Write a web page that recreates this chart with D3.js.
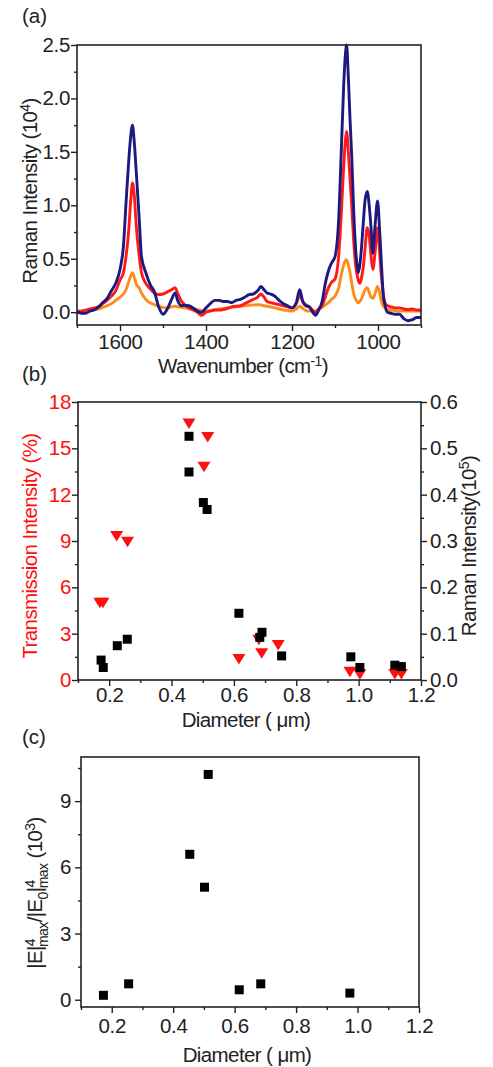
<!DOCTYPE html>
<html>
<head>
<meta charset="utf-8">
<script src="https://cdn.jsdelivr.net/npm/d3@7"></script>
<style>
  body { margin: 0; background: #fff; }
  svg text { font-family: "Liberation Sans", Arial, sans-serif; }
</style>
</head>
<body>
<div id="chart"></div>
<script>
// ---------- data ----------

// (a) Raman spectra, shared wavenumber grid (cm-1), intensity in 10^4
const wavenumbers = [
  1700,1690,1680,1670,1660,1650,1640,1630,1620,1610,
  1600,1592,1586,1580,1575,1571,1567,1562,1556,1550,
  1540,1530,1520,1510,1500,1490,1480,1472,1465,1458,
  1450,1440,1430,1420,1410,1400,1390,1380,1370,1360,
  1350,1340,1330,1320,1310,1300,1290,1280,1272,1265,
  1258,1250,1240,1230,1220,1210,1200,1190,1182,1175,
  1168,1160,1152,1145,1138,1130,1122,1115,1108,1100,
  1092,1085,1080,1076,1073,1069,1065,1061,1057,1053,
  1049,1046,1042,1038,1034,1030,1025,1020,1016,1012,
  1007,1001,996,992,988,984,978,970,960,950,
  940,930,920,910,900
];
const navyIntensity = [
  0.0,-0.01,-0.01,0.01,0.02,0.05,0.09,0.13,0.2,0.27,
  0.4,0.62,1.02,1.4,1.65,1.75,1.6,1.3,0.92,0.52,
  0.37,0.26,0.19,0.05,-0.02,0.03,0.12,0.18,0.1,0.06,
  0.065,0.06,0.04,0.01,0.0,0.04,0.08,0.11,0.11,0.1,
  0.1,0.09,0.11,0.12,0.14,0.165,0.17,0.2,0.24,0.21,
  0.18,0.17,0.15,0.11,0.08,0.06,0.04,0.09,0.21,0.1,
  0.06,0.05,0.0,-0.03,0.02,0.1,0.28,0.39,0.46,0.52,
  0.83,1.55,2.1,2.4,2.5,2.2,1.8,1.45,1.0,0.65,
  0.45,0.37,0.45,0.62,0.85,1.05,1.13,0.98,0.78,0.55,
  0.8,1.04,0.75,0.45,0.17,0.07,0.0,-0.01,-0.02,-0.02,
  -0.06,-0.08,-0.07,-0.05,-0.05
];
const redIntensity = [
  0.01,0.01,0.02,0.03,0.04,0.05,0.08,0.11,0.15,0.2,
  0.3,0.37,0.52,0.75,1.05,1.21,1.1,0.8,0.55,0.37,
  0.27,0.22,0.18,0.165,0.17,0.19,0.21,0.23,0.17,0.11,
  0.07,0.04,0.02,0.0,-0.03,0.0,0.01,0.02,0.02,0.025,
  0.035,0.05,0.056,0.06,0.08,0.1,0.12,0.14,0.17,0.14,
  0.1,0.09,0.08,0.07,0.06,0.05,0.04,0.08,0.16,0.1,
  0.07,0.05,0.02,0.0,0.03,0.06,0.15,0.23,0.28,0.31,
  0.5,0.95,1.35,1.6,1.69,1.5,1.25,0.99,0.7,0.48,
  0.36,0.3,0.27,0.33,0.43,0.6,0.79,0.7,0.52,0.4,
  0.55,0.79,0.55,0.33,0.18,0.09,0.06,0.05,0.04,0.04,
  0.03,0.025,0.03,0.02,0.02
];
const orangeIntensity = [
  0.01,0.01,0.015,0.02,0.025,0.03,0.045,0.06,0.08,0.11,
  0.14,0.17,0.21,0.28,0.34,0.37,0.33,0.26,0.23,0.18,
  0.12,0.087,0.07,0.055,0.045,0.04,0.05,0.056,0.05,0.045,
  0.04,0.035,0.03,0.025,0.015,0.01,0.015,0.02,0.03,0.035,
  0.04,0.045,0.05,0.055,0.06,0.065,0.068,0.07,0.068,0.06,
  0.055,0.05,0.04,0.03,0.02,0.015,0.01,0.03,0.056,0.035,
  0.015,0.01,0.01,0.01,0.025,0.045,0.07,0.09,0.12,0.15,
  0.22,0.36,0.44,0.48,0.49,0.44,0.37,0.27,0.18,0.13,
  0.1,0.087,0.1,0.13,0.17,0.21,0.23,0.18,0.14,0.13,
  0.17,0.24,0.18,0.1,0.06,0.04,0.025,0.02,0.015,0.01,
  0.01,0.01,0.01,0.01,0.01
];

// (b) transmission (%) and Raman intensity (10^5) vs diameter (um)
const transDiameter = [0.17,0.18,0.224,0.259,0.456,0.504,0.516,0.616,0.68,0.689,0.742,0.972,1.004,1.116,1.137];
const transIntensity = [5.0,5.0,9.33,8.95,16.6,13.8,15.74,1.36,2.6,1.73,2.26,0.54,0.37,0.39,0.39];
const ramanDiameter = [0.174,0.181,0.226,0.258,0.456,0.456,0.502,0.514,0.616,0.683,0.69,0.753,0.975,1.004,1.116,1.137];
const ramanIntensity = [0.043,0.027,0.074,0.088,0.526,0.449,0.383,0.368,0.144,0.092,0.103,0.052,0.050,0.027,0.032,0.029];

// (c) field enhancement (10^3) vs diameter (um)
const fieldDiameter = [0.173,0.255,0.454,0.502,0.514,0.615,0.685,0.975];
const fieldEnhancement = [0.2,0.72,6.59,5.1,10.21,0.45,0.72,0.3];

// ticks
const waveMajor = [1600,1400,1200,1000];
const waveMinor = [1700,1500,1300,1100,900];
const ramanAMajor = [0,0.5,1,1.5,2,2.5];
const ramanAMinor = [0.25,0.75,1.25,1.75,2.25];
const diamMajor = [0.2,0.4,0.6,0.8,1.0,1.2];
const diamMinor = [0.1,0.3,0.5,0.7,0.9,1.1];
const transMajor = [0,3,6,9,12,15,18];
const transMinor = [1.5,4.5,7.5,10.5,13.5,16.5];
const ramanBMajor = [0,0.1,0.2,0.3,0.4,0.5,0.6];
const ramanBMinor = [0.05,0.15,0.25,0.35,0.45,0.55];
const fieldMajor = [0,3,6,9];
const fieldMinor = [1.5,4.5,7.5,10.5];

// ---------- drawing ----------
const WIDTH = 493, HEIGHT = 1067;
const FONT = 20.5;
const SMALL = 14;
const AXIS = "#222";
const RED = "#ff1010";

const svg = d3.select("#chart").append("svg")
    .attr("width", WIDTH)
    .attr("height", HEIGHT);

// major + minor ticks for one axis
function drawAxis(axisGen, scale, major, minor, fmt, transform, pad, color) {
    svg.append("g")
        .attr("transform", transform)
        .call(axisGen(scale).tickValues(minor).tickSize(3).tickFormat(""))
        .call(a => {
            a.select(".domain").remove();
            a.selectAll("line").attr("stroke", AXIS).attr("stroke-width", 1.4);
        });
    svg.append("g")
        .attr("transform", transform)
        .call(axisGen(scale).tickValues(major).tickSize(6).tickPadding(pad).tickFormat(fmt))
        .call(a => {
            a.attr("font-size", null).attr("font-family", null);
            a.select(".domain").remove();
            a.selectAll("line").attr("stroke", AXIS).attr("stroke-width", 1.4);
            a.selectAll("text")
                .attr("fill", color || AXIS)
                .style("font-size", FONT + "px")
                .style("letter-spacing", "-0.3px");
        });
}

function frame(p) {
    svg.append("rect")
        .attr("x", p.left).attr("y", p.top)
        .attr("width", p.right - p.left).attr("height", p.bottom - p.top)
        .attr("fill", "none").attr("stroke", AXIS).attr("stroke-width", 1.6);
}

function label(x, y, txt) {
    svg.append("text").attr("x", x).attr("y", y)
        .style("font-size", FONT + "px").attr("fill", AXIS).text(txt);
}

// title with optional rotation; parts = [text, shift, dx] where shift = "sup" | "sub" | undefined
function title(x, y, rotate, parts, color) {
    const t = svg.append("text")
        .attr("transform", `translate(${x},${y})` + (rotate ? " rotate(-90)" : ""))
        .attr("text-anchor", "middle")
        .attr("fill", color || AXIS)
        .style("font-size", FONT + "px")
        .style("letter-spacing", "-0.6px");
    let level = 0;
    parts.forEach(([s, kind, dx]) => {
        const target = kind === "sup" ? -7 : kind === "sub" ? 6 : 0;
        const ts = t.append("tspan").attr("dy", target - level).text(s);
        if (kind) ts.style("font-size", SMALL + "px");
        if (dx) ts.attr("dx", dx);
        level = target;
    });
}

// ----- panel (a)
const pa = { left: 77, top: 45, right: 421, bottom: 325 };
const xa = d3.scaleLinear().domain([1700, 900]).range([pa.left, pa.right]);
const ya = d3.scaleLinear().domain([-0.12, 2.5]).range([pa.bottom, pa.top]);

const spectra = [
    { values: orangeIntensity, color: "#ff8c1a" },
    { values: redIntensity, color: "#ff1a1a" },
    { values: navyIntensity, color: "#1c1a80" }
];
const line = d3.line()
    .x(d => xa(d[0]))
    .y(d => ya(d[1]))
    .curve(d3.curveMonotoneX);

spectra.forEach(s => {
    svg.append("path")
        .datum(d3.zip(wavenumbers, s.values))
        .attr("d", line)
        .attr("fill", "none")
        .attr("stroke", s.color)
        .attr("stroke-width", 2.9)
        .attr("stroke-linejoin", "round");
});

frame(pa);
drawAxis(d3.axisBottom, xa, waveMajor, waveMinor, d3.format("d"), `translate(0,${pa.bottom})`, 3);
drawAxis(d3.axisLeft, ya, ramanAMajor, ramanAMinor, d3.format(".1f"), `translate(${pa.left},0)`, 1);
label(22, 23, "(a)");
title(243, 373, false, [["Wavenumber (cm"], ["-1", "sup"], [")"]]);
title(37, 191, true, [["Raman Intensity (10"], ["4", "sup"], [")"]]);

// ----- panel (b)
const pb = { left: 78, top: 402, right: 421, bottom: 680 };
const xb = d3.scaleLinear().domain([0.1, 1.2]).range([pb.left, pb.right]);
const ybL = d3.scaleLinear().domain([0, 18]).range([pb.bottom, pb.top]);
const ybR = d3.scaleLinear().domain([0, 0.6]).range([pb.bottom, pb.top]);

svg.append("g").selectAll("path")
    .data(d3.zip(transDiameter, transIntensity))
    .join("path")
    .attr("transform", d => `translate(${xb(d[0])},${ybL(d[1])})`)
    .attr("d", "M-6.5,-5L6.5,-5L0,5.5Z")
    .attr("fill", RED);

svg.append("g").selectAll("rect")
    .data(d3.zip(ramanDiameter, ramanIntensity))
    .join("rect")
    .attr("x", d => xb(d[0]) - 4.5)
    .attr("y", d => ybR(d[1]) - 4.5)
    .attr("width", 9).attr("height", 9)
    .attr("fill", "#000");

frame(pb);
drawAxis(d3.axisBottom, xb, diamMajor, diamMinor, d3.format(".1f"), `translate(0,${pb.bottom})`, 1);
drawAxis(d3.axisLeft, ybL, transMajor, transMinor, d3.format("d"), `translate(${pb.left},0)`, 1, RED);
drawAxis(d3.axisRight, ybR, ramanBMajor, ramanBMinor, d3.format(".1f"), `translate(${pb.right},0)`, 3);
label(22, 381, "(b)");
title(246, 727, false, [["Diameter ( μm)"]]);
title(37, 546, true, [["Transmission Intensity (%)"]], RED);
title(476, 546, true, [["Raman Intensity(10"], ["5", "sup"], [")"]]);

// ----- panel (c)
const pc = { left: 81, top: 757, right: 419, bottom: 1007 };
const xc = d3.scaleLinear().domain([0.1, 1.2]).range([pc.left, pc.right]);
const yc = d3.scaleLinear().domain([-0.33, 11]).range([pc.bottom, pc.top]);

svg.append("g").selectAll("rect")
    .data(d3.zip(fieldDiameter, fieldEnhancement))
    .join("rect")
    .attr("x", d => xc(d[0]) - 4.5)
    .attr("y", d => yc(d[1]) - 4.5)
    .attr("width", 9).attr("height", 9)
    .attr("fill", "#000");

frame(pc);
drawAxis(d3.axisBottom, xc, diamMajor, diamMinor, d3.format(".1f"), `translate(0,${pc.bottom})`, 5);
drawAxis(d3.axisLeft, yc, fieldMajor, fieldMinor, d3.format("d"), `translate(${pc.left},0)`, 4);
label(22, 744, "(c)");
title(247, 1062, false, [["Diameter ( μm)"]]);
title(42, 893, true, [
    ["|E|"], ["4", "sup"], ["max", "sub", -8], ["/|E"], ["0", "sub"], ["|"],
    ["4", "sup"], ["max", "sub", -8], [" (10"], ["3", "sup"], [")"]
]);
</script>
</body>
</html>
